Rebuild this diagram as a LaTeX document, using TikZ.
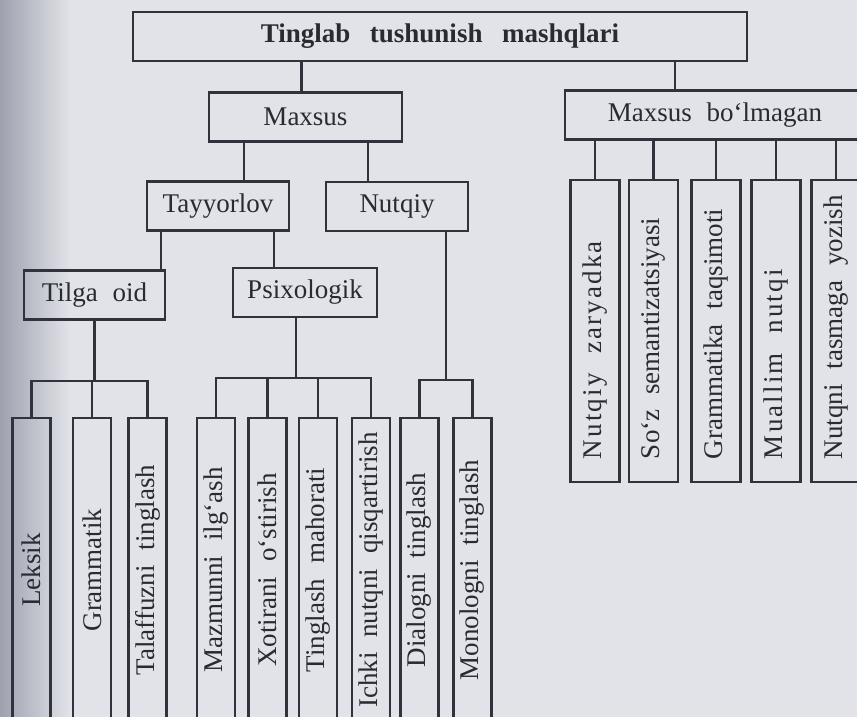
\documentclass[tikz,border=0pt]{standalone}
\usepackage{fontspec}
\setmainfont{Liberation Serif}[WordSpace=2.2, BoldFeatures={WordSpace=2.9}]
\usepackage{graphicx}
\usepackage{xcolor}

\definecolor{paper}{RGB}{226,227,233}
\definecolor{shadow}{RGB}{158,162,174}
\definecolor{ink}{RGB}{48,51,60}

% rotated texts of the tall boxes
\newcommand{\vtext}[1]{\rotatebox{90}{#1}}
\newcommand{\vlefttext}[1]{\rotatebox{90}{\makebox[256pt][l]{#1}}}
\newcommand{\spaced}[1]{{\addfontfeature{LetterSpace=8}#1}}

\begin{document}
\begin{tikzpicture}[x=1pt, y=-1pt,
    box/.style={draw=ink, line width=2.6pt, inner sep=0pt, text=ink!85!black,
        font=\fontsize{27}{30}\selectfont},
    hbox/.style={box, minimum width=#1, minimum height=49pt},
    lowbox/.style={box, minimum width=38pt, minimum height=304pt},
    highbox/.style={box, minimum width=49pt, minimum height=302pt},
    link/.style={draw=ink, line width=2.6pt}]

    % Paper and the shadow at the binding
    \fill[paper] (0,0) rectangle (857,717);
    \shade[left color=shadow, right color=paper] (0,0) rectangle (70,717);
    \useasboundingbox (0,0) rectangle (857,717);
    \clip (0,0) rectangle (857,717);

    % Upper boxes
    \node[hbox=614pt] (top) at (440,36.5) {\bfseries Tinglab tushunish mashqlari};
    \node[hbox=193pt] (maxsus) at (305.5,117) {Maxsus};
    \node[hbox=300pt] (boshqa) at (715,115) {Maxsus bo‘lmagan};
    \node[hbox=142pt] (tayyor) at (218,206) {Tayyorlov};
    \node[hbox=142pt] (nutqiy) at (397,206.5) {Nutqiy};
    \node[hbox=141pt] (tilga) at (94.5,295) {Tilga oid};
    \node[hbox=144pt] (psix) at (305,292.5) {Psixologik};

    % Lower tall boxes
    \node[lowbox] (leksik) at (31.5,570) {\vtext{Leksik}};
    \node[lowbox] (gramm) at (92,570) {\vtext{Grammatik}};
    \node[lowbox] (talaff) at (147.5,570) {\vtext{Talaffuzni tinglash}};
    \node[lowbox] (mazmun) at (216,570) {\vtext{Mazmunni ilg‘ash}};
    \node[lowbox] (xotira) at (267.5,570) {\vtext{Xotirani o‘stirish}};
    \node[lowbox] (mahorat) at (318,570) {\vtext{Tinglash mahorati}};
    \node[lowbox] (ichki) at (371,570) {\vtext{Ichki nutqni qisqartirish}};
    \node[lowbox] (dialog) at (419.5,570) {\vtext{Dialogni tinglash}};
    \node[lowbox] (monolog) at (472.5,570) {\vtext{Monologni tinglash}};

    % Right tall boxes
    \node[highbox] (zaryad) at (595,331) {\vlefttext{\spaced{Nutqiy zaryadka}}};
    \node[highbox] (semant) at (653.5,331) {\vlefttext{So‘z semantizatsiyasi}};
    \node[highbox] (taqsim) at (716,331) {\vlefttext{Grammatika taqsimoti}};
    \node[highbox] (muallim) at (776,331) {\vlefttext{\spaced{Muallim nutqi}}};
    \node[highbox] (tasma) at (836,331) {\vlefttext{Nutqni tasmaga yozish}};

    % Links from the top box
    \draw[link] ([xshift=-4]maxsus.north) -- ([xshift=-4]maxsus.north |- top.south);
    \draw[link] ([xshift=-40]boshqa.north) -- ([xshift=-40]boshqa.north |- top.south);

    % Maxsus branch
    \draw[link] ([xshift=26]tayyor.north) -- ([xshift=26]tayyor.north |- maxsus.south);
    \draw[link] ([xshift=-29]nutqiy.north) -- ([xshift=-29]nutqiy.north |- maxsus.south);
    \draw[link] ([xshift=66.5]tilga.north) -- ([xshift=66.5]tilga.north |- tayyor.south);
    \draw[link] ([xshift=-31]psix.north) -- ([xshift=-31]psix.north |- tayyor.south);

    % Tilga oid group
    \coordinate (barA) at (0,381);
    \draw[link] (tilga.south) -- (tilga.south |- barA);
    \draw[link] (leksik.north) |- (talaff.north |- barA) -- (talaff.north);
    \draw[link] (gramm.north) -- (gramm.north |- barA);

    % Psixologik group
    \coordinate (barB) at (0,378);
    \draw[link] ([xshift=-9]psix.south) -- ([xshift=-9]psix.south |- barB);
    \draw[link] (mazmun.north) |- (ichki.north |- barB) -- (ichki.north);
    \draw[link] (xotira.north) -- (xotira.north |- barB);
    \draw[link] (mahorat.north) -- (mahorat.north |- barB);

    % Nutqiy group
    \coordinate (barC) at (0,380);
    \draw[link] ([xshift=49]nutqiy.south) -- ([xshift=49]nutqiy.south |- barC);
    \draw[link] (dialog.north) |- (monolog.north |- barC) -- (monolog.north);

    % Maxsus bo'lmagan group
    \draw[link] (zaryad.north) -- (zaryad.north |- boshqa.south);
    \draw[link] (semant.north) -- (semant.north |- boshqa.south);
    \draw[link] (taqsim.north) -- (taqsim.north |- boshqa.south);
    \draw[link] (muallim.north) -- (muallim.north |- boshqa.south);
    \draw[link] (tasma.north) -- (tasma.north |- boshqa.south);
\end{tikzpicture}
\end{document}
